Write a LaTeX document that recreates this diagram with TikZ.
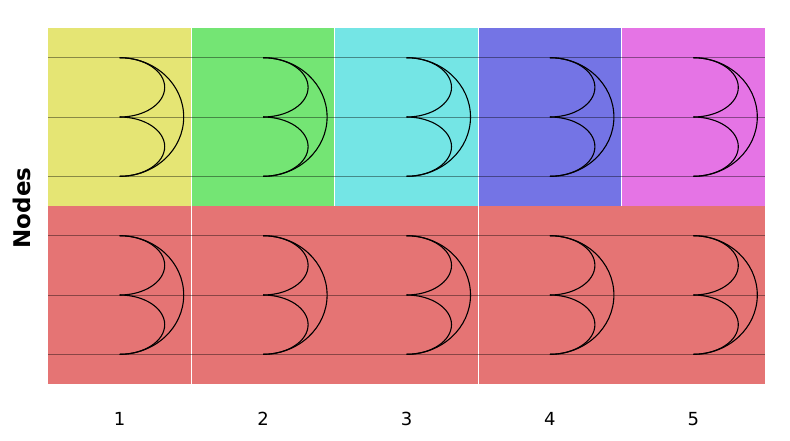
\documentclass[tikz,border=0pt]{standalone}
\usepackage{fontspec}
\setmainfont{DejaVu Sans}
\definecolor{cyel}{RGB}{229,229,116}
\definecolor{cgrn}{RGB}{116,229,116}
\definecolor{ccyn}{RGB}{116,229,229}
\definecolor{cblu}{RGB}{116,116,229}
\definecolor{cmag}{RGB}{229,116,229}
\definecolor{cred}{RGB}{229,116,116}
\tikzset{
  cell/.style={draw=white, line width=0.9pt},
  track/.style={draw=black, draw opacity=0.4, line width=0.8pt},
  arcline/.style={draw=black, line width=1.1pt},
  ticklab/.style={font=\fontsize{18}{20}\selectfont, inner sep=0pt},
}
\begin{document}
\begin{tikzpicture}[x=1pt,y=-1pt]
\useasboundingbox (0,0) rectangle (790,440);
\def\cw{143.4}
% top row
\foreach \c [count=\i from 0] in {cyel,cgrn,ccyn,cblu,cmag}{
  \fill[\c] ({48+\i*\cw},28) rectangle ({48+(\i+1)*\cw},206);
}
% bottom row
\fill[cred] (48,206) rectangle (765,384);
% separators
\foreach \i in {1,2,3,4}{
  \draw[cell] ({48+\i*\cw},28) -- ({48+\i*\cw},206);
}
\foreach \i in {1,3}{
  \draw[cell] ({48+\i*\cw},206) -- ({48+\i*\cw},384);
}
% tracks
\foreach \y in {57.7,117,176.3,235.7,295,354.3}{
  \draw[track] (48,\y) -- (765,\y);
}
% arcs
\foreach \i in {0,...,4}{
  \foreach \yt in {57.7,235.7}{
    \pgfmathsetmacro{\xo}{48+(\i+0.5)*\cw}
    \draw[arcline] (\xo,\yt) arc[start angle=-90,end angle=90,x radius=45,y radius=29.65];
    \draw[arcline] (\xo,\yt+59.3) arc[start angle=-90,end angle=90,x radius=45,y radius=29.65];
    \draw[arcline] (\xo,\yt) arc[start angle=-90,end angle=90,x radius=64,y radius=59.3];
  }
}
% labels
\foreach \i in {1,...,5}{
  \node[ticklab] (lab\i) at ({48+(\i-0.5)*\cw},419) {\i};
}
\node[font=\bfseries\fontsize{23}{26}\selectfont, rotate=90, inner sep=0pt] (ylab) at (22,208) {Nodes};
\end{tikzpicture}
\end{document}
